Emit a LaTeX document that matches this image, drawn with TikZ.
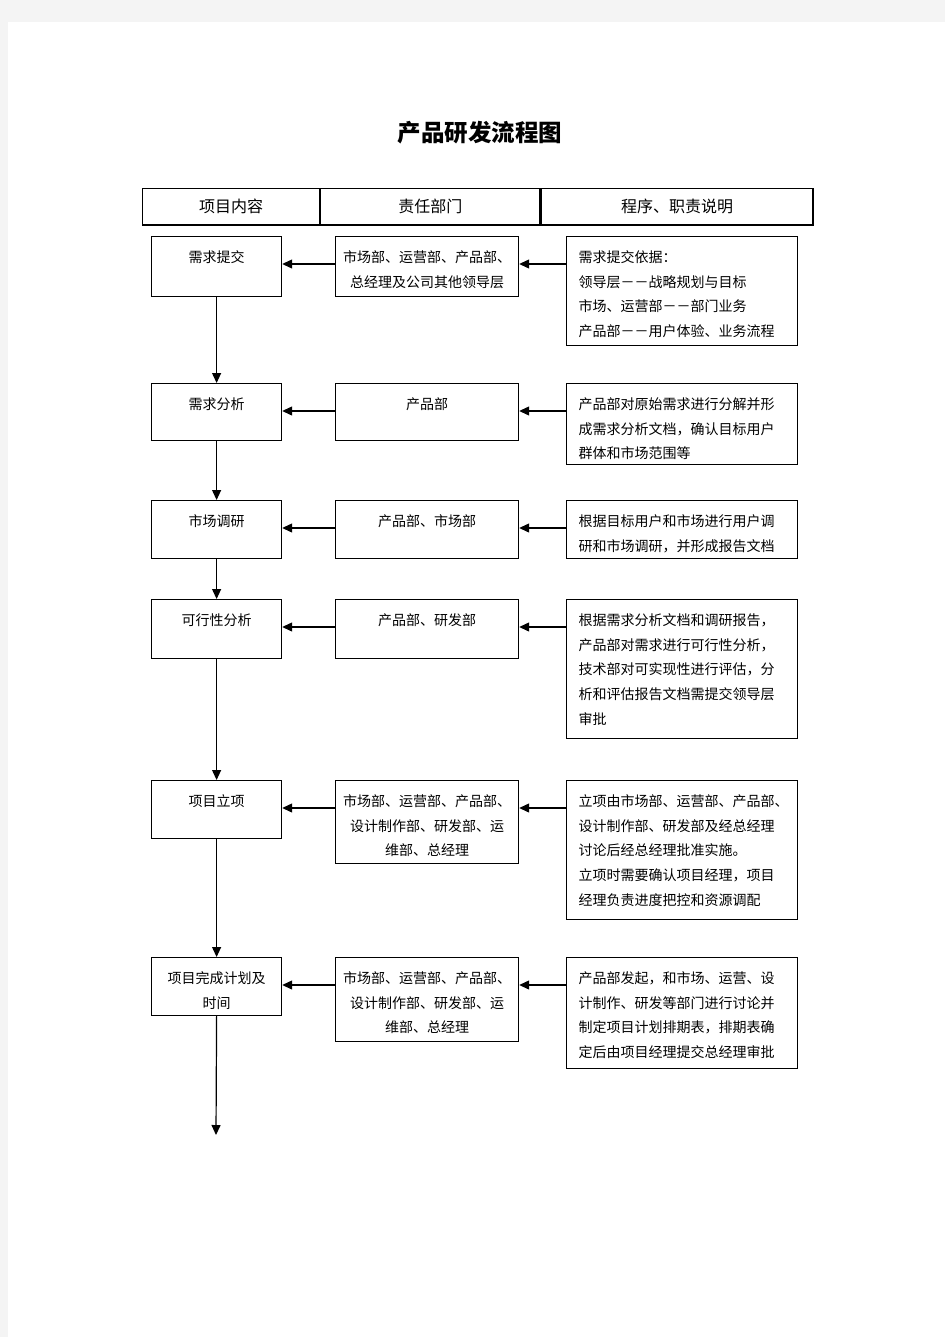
\documentclass[tikz,border=0pt]{standalone}
\usepackage{fontspec}
\setmainfont{Noto Sans CJK SC}
\definecolor{pagegray}{RGB}{244,244,244}
\usetikzlibrary{arrows.meta,positioning}

\begin{document}
\begin{tikzpicture}[x=1pt, y=-1pt, line width=1.2pt,
    every node/.style={font=\fontsize{14}{24.7}\selectfont, inner sep=0pt},
    cell/.style={draw, minimum height=36pt, anchor=north west, font=\fontsize{16}{16}\selectfont},
    stepbox/.style={draw, minimum width=130pt, minimum height=58pt, anchor=north west},
    deptbox/.style={draw, minimum width=183pt, anchor=north west},
    notebox/.style={draw, minimum width=231pt, anchor=north west},
    txt/.style={align=center, anchor=north, yshift=-14pt},
    note/.style={align=left, anchor=north west, xshift=12pt, yshift=-14pt},
    arr/.style={-{Triangle[length=10pt,width=9pt]}}]
    \useasboundingbox (0,0) rectangle (945,1337);
    \fill[pagegray] (0,0) rectangle (945,1337);
    \fill[white] (8,22) rectangle (945,1337);

    \node[font=\fontsize{23.5}{23.5}\selectfont\bfseries] (title) at (480,133) {产品研发流程图};

    % header
    \node[cell, minimum width=177pt] (h1) at (142,188) {项目内容};
    \node[cell, minimum width=219pt] (h2) at (h1.north east) {责任部门};
    \node[cell, minimum width=272pt] (h3) at (h2.north east) {程序、职责说明};
    \draw[line width=2.5pt] (h1.south west) -- (h3.south east);

    % boxes
    \node[stepbox, minimum height=60pt] (l1) at (151,236) {};
    \node[deptbox, minimum height=60pt] (m1) at (335,236) {};
    \node[notebox, minimum height=109pt] (r1) at (566,236) {};
    \node[stepbox, minimum height=57pt] (l2) at (151,383) {};
    \node[deptbox, minimum height=57pt] (m2) at (335,383) {};
    \node[notebox, minimum height=81pt] (r2) at (566,383) {};
    \node[stepbox] (l3) at (151,500) {};
    \node[deptbox, minimum height=58pt] (m3) at (335,500) {};
    \node[notebox, minimum height=58pt] (r3) at (566,500) {};
    \node[stepbox, minimum height=59pt] (l4) at (151,599) {};
    \node[deptbox, minimum height=59pt] (m4) at (335,599) {};
    \node[notebox, minimum height=139pt] (r4) at (566,599) {};
    \node[stepbox] (l5) at (151,780) {};
    \node[deptbox, minimum height=83pt] (m5) at (335,780) {};
    \node[notebox, minimum height=139pt] (r5) at (566,780) {};
    \node[stepbox] (l6) at (151,957) {};
    \node[deptbox, minimum height=84pt] (m6) at (335,957) {};
    \node[notebox, minimum height=111pt] (r6) at (566,957) {};

    % texts
    \node[txt] (lt1) at (l1.north) {需求提交};
    \node[txt] (mt1) at (m1.north) {市场部、运营部、产品部、\\总经理及公司其他领导层};
    \node[note] (rt1) at (r1.north west) {需求提交依据：\\领导层－－战略规划与目标\\市场、运营部－－部门业务\\产品部－－用户体验、业务流程};
    \node[txt] (lt2) at (l2.north) {需求分析};
    \node[txt] (mt2) at (m2.north) {产品部};
    \node[note] (rt2) at (r2.north west) {产品部对原始需求进行分解并形\\成需求分析文档，确认目标用户\\群体和市场范围等};
    \node[txt] (lt3) at (l3.north) {市场调研};
    \node[txt] (mt3) at (m3.north) {产品部、市场部};
    \node[note] (rt3) at (r3.north west) {根据目标用户和市场进行用户调\\研和市场调研，并形成报告文档};
    \node[txt] (lt4) at (l4.north) {可行性分析};
    \node[txt] (mt4) at (m4.north) {产品部、研发部};
    \node[note] (rt4) at (r4.north west) {根据需求分析文档和调研报告，\\产品部对需求进行可行性分析，\\技术部对可实现性进行评估，分\\析和评估报告文档需提交领导层\\审批};
    \node[txt] (lt5) at (l5.north) {项目立项};
    \node[txt] (mt5) at (m5.north) {市场部、运营部、产品部、\\设计制作部、研发部、运\\维部、总经理};
    \node[note] (rt5) at (r5.north west) {立项由市场部、运营部、产品部、\\设计制作部、研发部及经总经理\\讨论后经总经理批准实施。\\立项时需要确认项目经理，项目\\经理负责进度把控和资源调配};
    \node[txt] (lt6) at (l6.north) {项目完成计划及\\时间};
    \node[txt] (mt6) at (m6.north) {市场部、运营部、产品部、\\设计制作部、研发部、运\\维部、总经理};
    \node[note] (rt6) at (r6.north west) {产品部发起，和市场、运营、设\\计制作、研发等部门进行讨论并\\制定项目计划排期表，排期表确\\定后由项目经理提交总经理审批};

    % arrows
    \foreach \i in {1,...,6} {
        \draw[arr] ([yshift=-28pt]r\i.north west) -- ([yshift=-28pt]m\i.north east);
        \draw[arr] ([yshift=-28pt]m\i.north west) -- ([yshift=-28pt]l\i.north east);
    }
    \foreach \a/\b in {1/2, 2/3, 3/4, 4/5, 5/6}
        \draw[arr] (l\a.south) -- (l\b.north);
    \coordinate (end) at (216,1135);
    \draw[arr] (l6.south) -- (end);
\end{tikzpicture}
\end{document}
